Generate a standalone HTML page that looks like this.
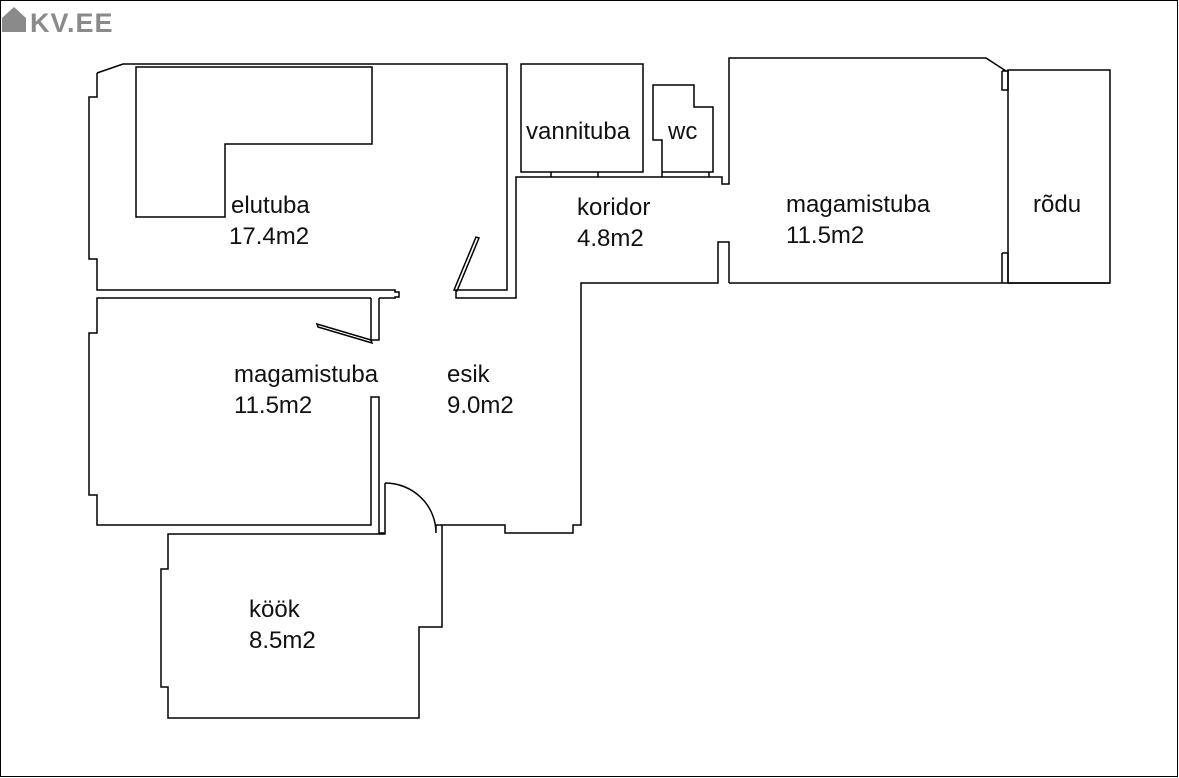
<!DOCTYPE html>
<html><head><meta charset="utf-8"><style>
html,body{margin:0;padding:0;background:#fff;}
svg{display:block;}
text{font-family:"Liberation Sans",Arial,sans-serif;font-size:24px;fill:#111;}
</style></head><body>
<svg width="1179" height="778" viewBox="0 0 1179 778" xmlns="http://www.w3.org/2000/svg">
<rect x="0.5" y="0.5" width="1177" height="776" fill="#fff" stroke="#000" stroke-width="1"/>
<g fill="#8a8a8a">
<path d="M2 18 L14 7 L26 18 L26 32 L2 32 Z"/>
<text x="30" y="32" style="font-size:27px;font-weight:bold;fill:#8a8a8a;letter-spacing:1px">KV.EE</text>
</g>
<g fill="none" stroke="#000" stroke-width="1.5">
<polyline points="97,73 123,64 507,64 507,290 460,290"/>
<polyline points="97,73 97,97 89,97 89,259 97,259 97,290 395,290 395,292 399,292 399,297 395,297 395,298 379,298"/>
<polygon points="136,67 372,67 372,144 225,144 225,217 136,217"/>
<polygon points="454,290 457,291 479,238 476,237"/>
<polyline points="460,290 456,290 456,298 516,298 516,177 722,177 722,184 729,184 729,58 986,58 1006,71"/>
<polyline points="371,298 97,298 97,333 89,333 89,495 97,495 97,525 371,525 371,397 379,397 379,533 385,533"/>
<polyline points="371,298 371,340 379,340 379,298"/>
<polygon points="317,324 318,327 372,343 371,340"/>
<rect x="521" y="64" width="122" height="108"/>
<polyline points="662,172 662,140 653,140 653,85 694,85 694,107 713,107 713,172 662,172"/>
<line x1="551" y1="172" x2="551" y2="177"/><line x1="598" y1="172" x2="598" y2="177"/>
<line x1="662" y1="172" x2="662" y2="177"/><line x1="709" y1="172" x2="709" y2="177"/>
<polyline points="1002,71 1008,71 1008,90 1002,90 1002,71"/>
<polyline points="1002,253 1008,253 1008,283"/>
<line x1="1002" y1="253" x2="1002" y2="283"/>
<rect x="1008" y="70" width="102" height="213"/>
<polyline points="729,283 1110,283"/>
<polyline points="729,283 729,242 718,242 718,283 581,283 581,525 573,525 573,533 505,533 505,525 442,525 442,627 419,627 419,718 168,718 168,687 161,687 161,569 168,569 168,534 385,534 385,483"/>
<path d="M385,483 A51,50 0 0 1 436,533 L436,525 L442,525"/>
</g>
<text x="231" y="213">elutuba</text><text x="229" y="244">17.4m2</text>
<text x="526" y="139">vannituba</text><text x="668" y="139">wc</text>
<text x="577" y="215">koridor</text><text x="577" y="246">4.8m2</text>
<text x="786" y="212">magamistuba</text><text x="786" y="243">11.5m2</text>
<text x="1033" y="212">rõdu</text>
<text x="234" y="382">magamistuba</text><text x="234" y="413">11.5m2</text>
<text x="447" y="382">esik</text><text x="447" y="413">9.0m2</text>
<text x="249" y="617">köök</text><text x="249" y="648">8.5m2</text>
</svg>
</body></html>
